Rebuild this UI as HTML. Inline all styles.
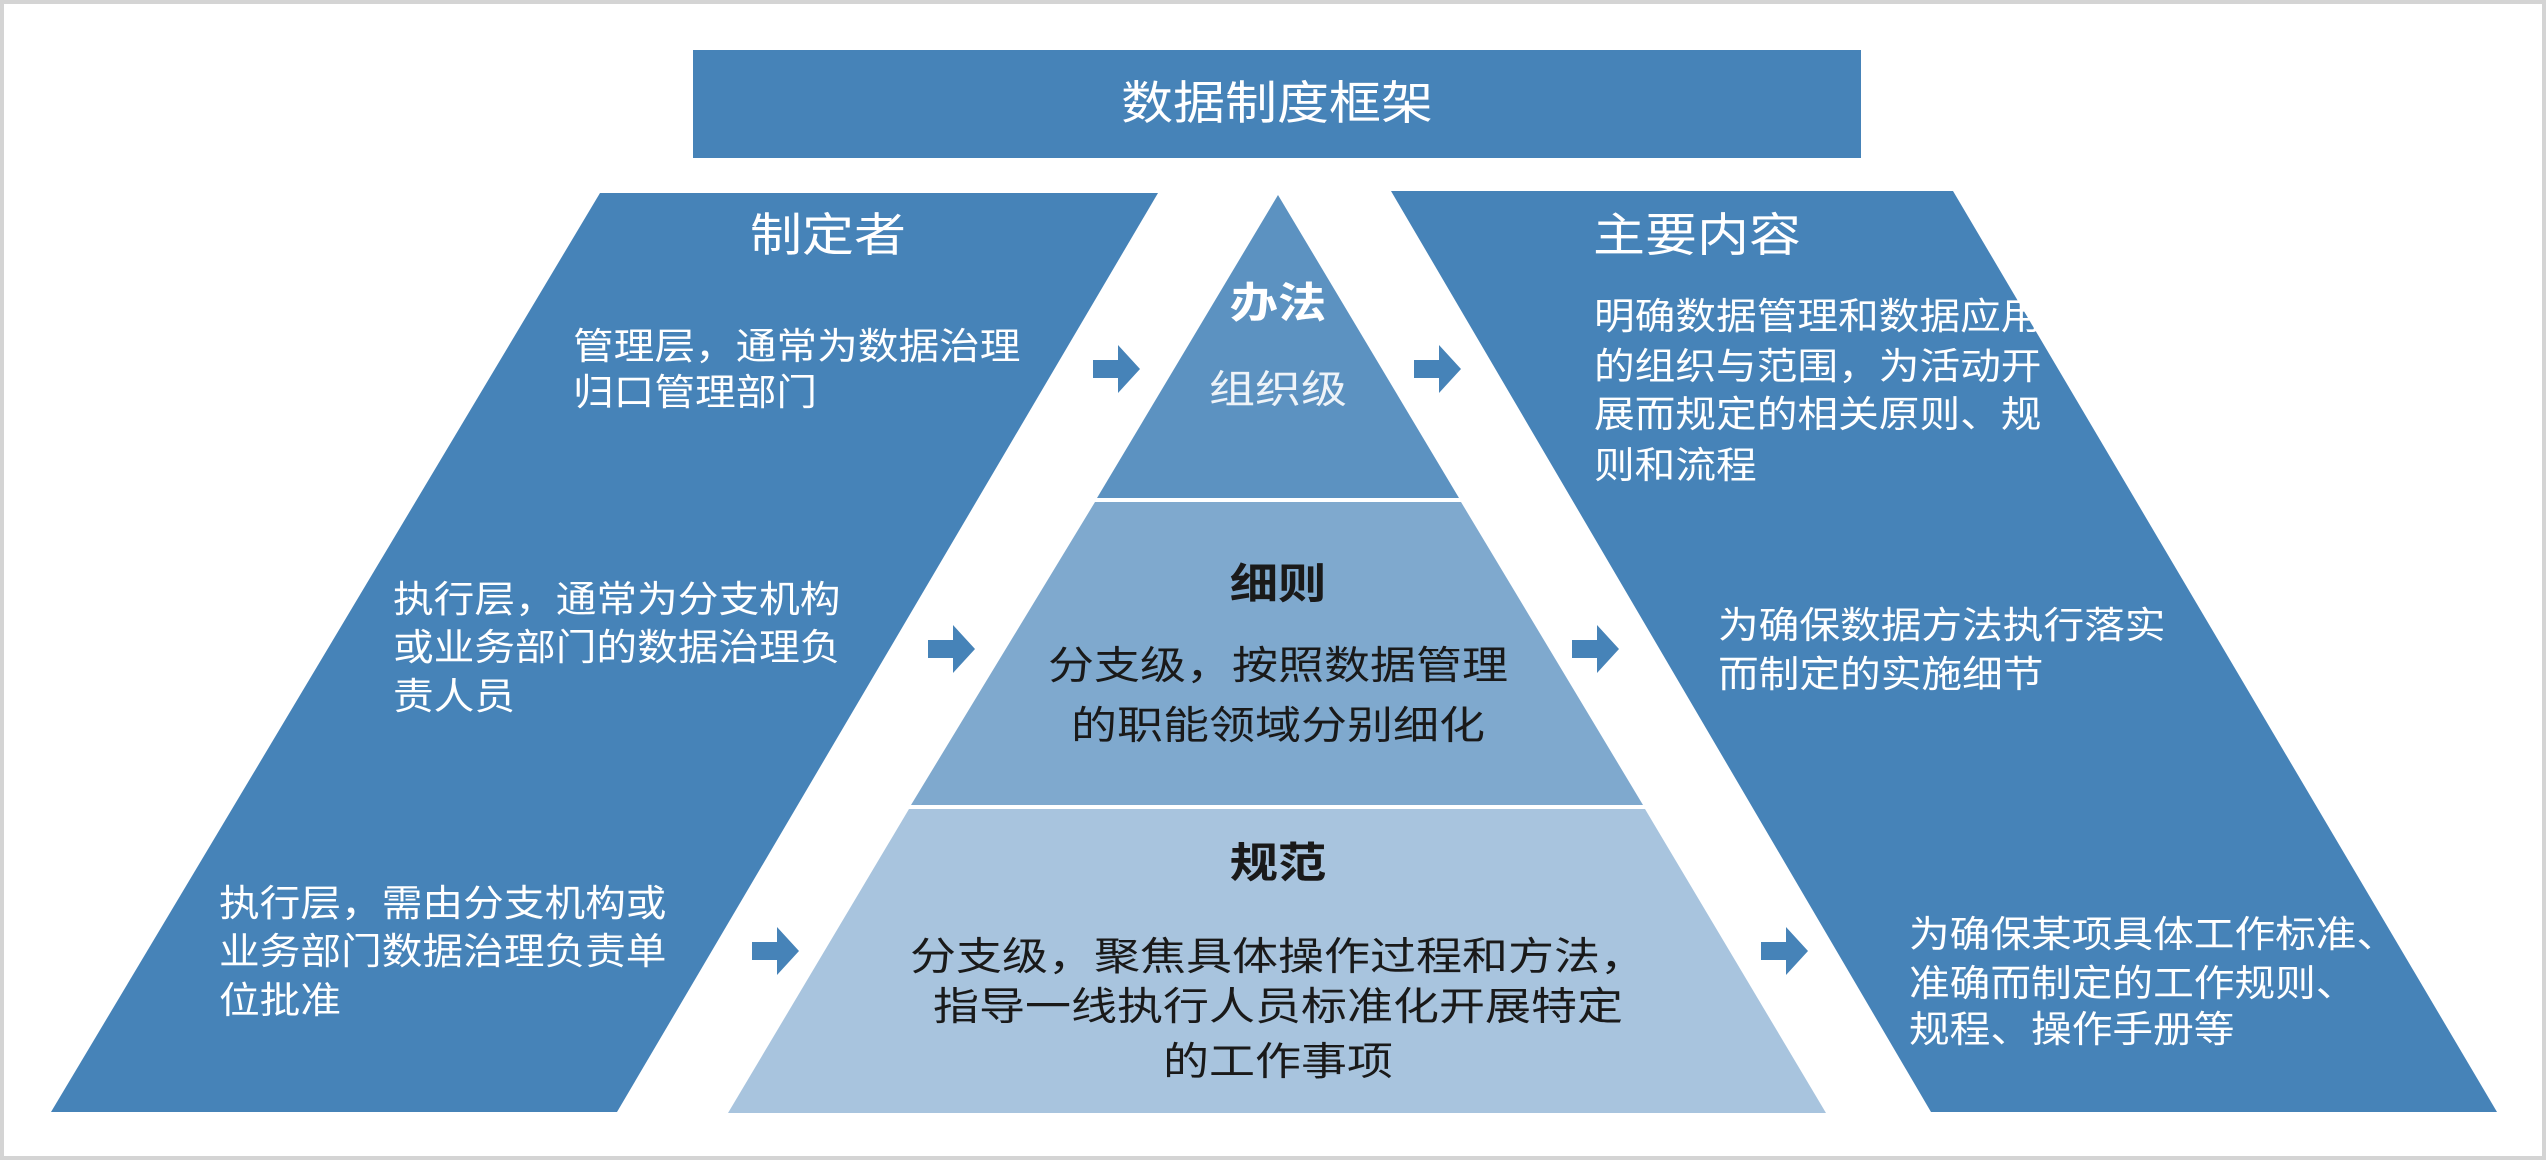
<!DOCTYPE html>
<html><head><meta charset="utf-8"><style>
html,body{margin:0;padding:0;background:#fff;}
svg{display:block;}
text{font-family:"Liberation Sans","Noto Sans CJK SC",sans-serif;dominant-baseline:central;}
.w{fill:#fff;}
.d{fill:#1a1a1a;}
</style></head><body>
<svg width="2546" height="1160" viewBox="0 0 2546 1160" xmlns="http://www.w3.org/2000/svg">
<rect x="2" y="2" width="2542" height="1156" fill="#fff" stroke="#d4d4d4" stroke-width="4"/>
<!-- title -->
<rect x="693" y="50" width="1168" height="108" fill="#4683b8"/>
<g transform="translate(1277,104) scale(1.13,1)"><text class="w" font-size="46" text-anchor="middle">数据制度框架</text></g>
<!-- left parallelogram -->
<polygon points="600,193 1158,193 617,1112 51,1112" fill="#4683b8"/>
<!-- right parallelogram -->
<polygon points="1391,191 1953,191 2497,1112 1931,1112" fill="#4683b8"/>
<!-- pyramid -->
<polygon points="1278,195 1459,498 1097,498" fill="#5c92c1"/>
<polygon points="1095,502 1461,502 1643,805 911,805" fill="#7fa9ce"/>
<polygon points="909,809 1645,809 1826,1113 728,1113" fill="#a8c4de"/>
<!-- arrows -->
<g fill="#4683b8">
<polygon points="1093,360 1118,360 1118,345 1140,369 1118,393 1118,378 1093,378"/>
<polygon points="1414,360 1439,360 1439,345 1461,369 1439,393 1439,378 1414,378"/>
<polygon points="928,640 953,640 953,625 975,649 953,673 953,658 928,658"/>
<polygon points="1572,640 1597,640 1597,625 1619,649 1597,673 1597,658 1572,658"/>
<polygon points="752,942 777,942 777,927 799,951 777,975 777,960 752,960"/>
<polygon points="1761,942 1786,942 1786,927 1808,951 1786,975 1786,960 1761,960"/>
</g>
<!-- left texts -->
<g transform="translate(828,236) scale(1.13,1)"><text class="w" font-size="46" text-anchor="middle">制定者</text></g>
<g transform="translate(573,347) scale(1.1,1)"><text class="w" font-size="37">管理层，通常为数据治理</text></g>
<g transform="translate(573,393) scale(1.1,1)"><text class="w" font-size="37">归口管理部门</text></g>
<g transform="translate(393,600) scale(1.1,1)"><text class="w" font-size="37">执行层，通常为分支机构</text></g>
<g transform="translate(393,648) scale(1.1,1)"><text class="w" font-size="37">或业务部门的数据治理负</text></g>
<g transform="translate(393,697) scale(1.1,1)"><text class="w" font-size="37">责人员</text></g>
<g transform="translate(219,904) scale(1.1,1)"><text class="w" font-size="37">执行层，需由分支机构或</text></g>
<g transform="translate(219,952) scale(1.1,1)"><text class="w" font-size="37">业务部门数据治理负责单</text></g>
<g transform="translate(219,1001) scale(1.1,1)"><text class="w" font-size="37">位批准</text></g>
<!-- pyramid texts -->
<g transform="translate(1278,303) scale(1.15,1)"><text class="w" font-size="42" font-weight="bold" text-anchor="middle">办法</text></g>
<g transform="translate(1278,390) scale(1.18,1)"><text fill="#eef3f8" font-size="39" text-anchor="middle">组织级</text></g>
<g transform="translate(1278,584) scale(1.15,1)"><text class="d" font-size="42" font-weight="bold" text-anchor="middle">细则</text></g>
<g transform="translate(1278,666) scale(1.18,1)"><text class="d" font-size="39" text-anchor="middle">分支级，按照数据管理</text></g>
<g transform="translate(1278,726) scale(1.18,1)"><text class="d" font-size="39" text-anchor="middle">的职能领域分别细化</text></g>
<g transform="translate(1278,863) scale(1.15,1)"><text class="d" font-size="42" font-weight="bold" text-anchor="middle">规范</text></g>
<g transform="translate(1278,957) scale(1.18,1)"><text class="d" font-size="39" text-anchor="middle">分支级，聚焦具体操作过程和方法，</text></g>
<g transform="translate(1278,1007) scale(1.18,1)"><text class="d" font-size="39" text-anchor="middle">指导一线执行人员标准化开展特定</text></g>
<g transform="translate(1278,1062) scale(1.18,1)"><text class="d" font-size="39" text-anchor="middle">的工作事项</text></g>
<!-- right texts -->
<g transform="translate(1697,236) scale(1.13,1)"><text class="w" font-size="46" text-anchor="middle">主要内容</text></g>
<g transform="translate(1594,317) scale(1.1,1)"><text class="w" font-size="37">明确数据管理和数据应用</text></g>
<g transform="translate(1594,367) scale(1.1,1)"><text class="w" font-size="37">的组织与范围，为活动开</text></g>
<g transform="translate(1594,415) scale(1.1,1)"><text class="w" font-size="37">展而规定的相关原则、规</text></g>
<g transform="translate(1594,466) scale(1.1,1)"><text class="w" font-size="37">则和流程</text></g>
<g transform="translate(1718,626) scale(1.1,1)"><text class="w" font-size="37">为确保数据方法执行落实</text></g>
<g transform="translate(1718,675) scale(1.1,1)"><text class="w" font-size="37">而制定的实施细节</text></g>
<g transform="translate(1909,935) scale(1.1,1)"><text class="w" font-size="37">为确保某项具体工作标准、</text></g>
<g transform="translate(1909,984) scale(1.1,1)"><text class="w" font-size="37">准确而制定的工作规则、</text></g>
<g transform="translate(1909,1030) scale(1.1,1)"><text class="w" font-size="37">规程、操作手册等</text></g>
</svg>
</body></html>
